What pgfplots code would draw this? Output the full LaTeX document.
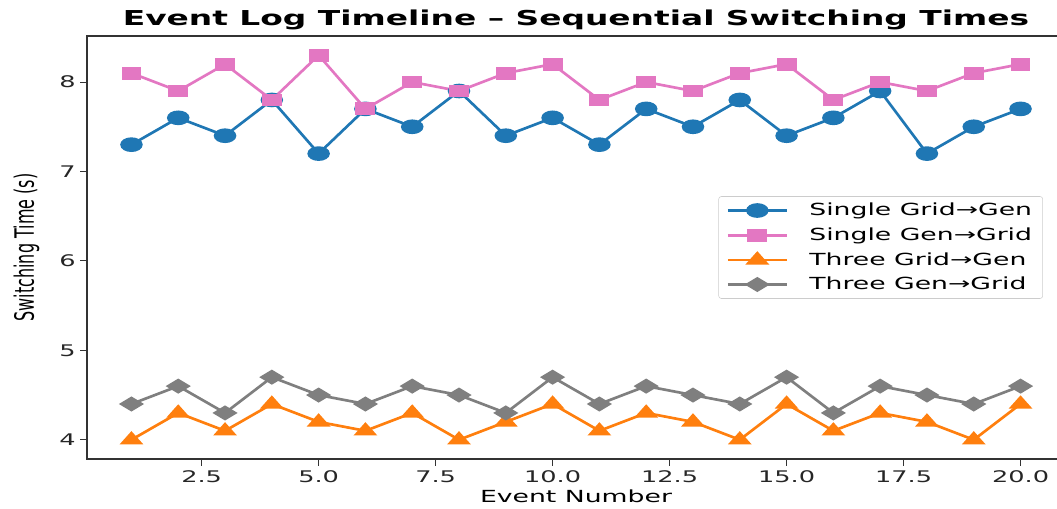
\documentclass[border=0pt]{standalone}
\usepackage{pgfplots}
\pgfplotsset{compat=1.18}
\usepackage{fontspec}
\setmainfont{DejaVu Sans}
\newfontfamily\tickf{DejaVu Sans}[FakeStretch=1.6]
\newfontfamily\titlef{DejaVu Sans}[FakeStretch=1.6]
\newfontfamily\ylabf{DejaVu Sans}[FakeStretch=0.6]
\definecolor{tabblue}{HTML}{1F77B4}
\definecolor{tabpink}{HTML}{E377C2}
\definecolor{taborange}{HTML}{FF7F0E}
\definecolor{tabgray}{HTML}{7F7F7F}
\pgfplotstableread{
x sgg sgr tgg tgr
1 7.3 8.1 4.0 4.4
2 7.6 7.9 4.3 4.6
3 7.4 8.2 4.1 4.3
4 7.8 7.8 4.4 4.7
5 7.2 8.3 4.2 4.5
6 7.7 7.7 4.1 4.4
7 7.5 8.0 4.3 4.6
8 7.9 7.9 4.0 4.5
9 7.4 8.1 4.2 4.3
10 7.6 8.2 4.4 4.7
11 7.3 7.8 4.1 4.4
12 7.7 8.0 4.3 4.6
13 7.5 7.9 4.2 4.5
14 7.8 8.1 4.0 4.4
15 7.4 8.2 4.4 4.7
16 7.6 7.8 4.1 4.3
17 7.9 8.0 4.3 4.6
18 7.2 7.9 4.2 4.5
19 7.5 8.1 4.0 4.4
20 7.7 8.2 4.4 4.6
}\datatable
\begin{document}
\begin{tikzpicture}
\begin{axis}[
  scale only axis,
  width=733.5pt, height=317.25pt,
  xmin=0.05, xmax=20.95, ymin=3.785, ymax=8.515,
  xtick={2.5,5,7.5,10,12.5,15,17.5,20},
  ytick={4,5,6,7,8},
  /pgf/number format/assume math mode=true,
  xticklabel style={/pgf/number format/.cd, fixed, fixed zerofill, precision=1},
  yticklabel style={/pgf/number format/.cd, fixed, precision=0},
  ticklabel style={font=\tickf\fontsize{12}{14}\selectfont, text=black!85},
  tick align=outside, tick pos=left,
  major tick length=5pt,
  tick style={black!80, line width=0.8pt},
  axis line style={black!80, line width=0.8pt},
  xlabel={Event Number},
  xlabel style={font=\tickf\fontsize{12.5}{14}\selectfont, yshift=1pt},
  ylabel={Switching Time (s)},
  ylabel style={font=\ylabf\fontsize{20}{22}\selectfont, yshift=8pt},
  title={Event Log Timeline – Sequential Switching Times},
  title style={font=\titlef\bfseries\fontsize{15.4}{17}\selectfont, yshift=-5pt},
  legend style={at={(0.9775,0.5)}, anchor=east, draw=black!20, rounded corners=2pt,
    font=\tickf\fontsize{12.5}{14}\selectfont, row sep=3.5pt, inner xsep=6pt, inner ysep=3pt},
  legend cell align=left,
  legend image code/.code={\draw[mark repeat=2,mark phase=2] plot coordinates {(0pt,0pt) (22pt,0pt) (44pt,0pt)};
    \path (58pt,0pt);},
  every axis plot/.append style={line width=2pt},
]
\addplot[color=tabblue, mark=*, mark size=4.5pt, mark options={xscale=1.65, solid}] table[x=x,y=sgg] {\datatable};
\addlegendentry{Single Grid→Gen}
\addplot[color=tabpink, mark=square*, mark size=3.8pt, mark options={xscale=1.7, solid}] table[x=x,y=sgr] {\datatable};
\addlegendentry{Single Gen→Grid}
\addplot[color=taborange, mark=triangle*, mark size=5pt, mark options={xscale=1.55, solid}] table[x=x,y=tgg] {\datatable};
\addlegendentry{Three Grid→Gen}
\addplot[color=tabgray, mark=diamond*, mark size=5pt, mark options={xscale=2.0, yscale=0.9, solid}] table[x=x,y=tgr] {\datatable};
\addlegendentry{Three Gen→Grid}
\end{axis}
\pgfresetboundingbox
\path[use as bounding box] ([shift={(-65.25pt,-36.75pt)}]current axis.south west) rectangle ([shift={(727.5pt,344.25pt)}]current axis.south west);
\end{tikzpicture}
\end{document}
